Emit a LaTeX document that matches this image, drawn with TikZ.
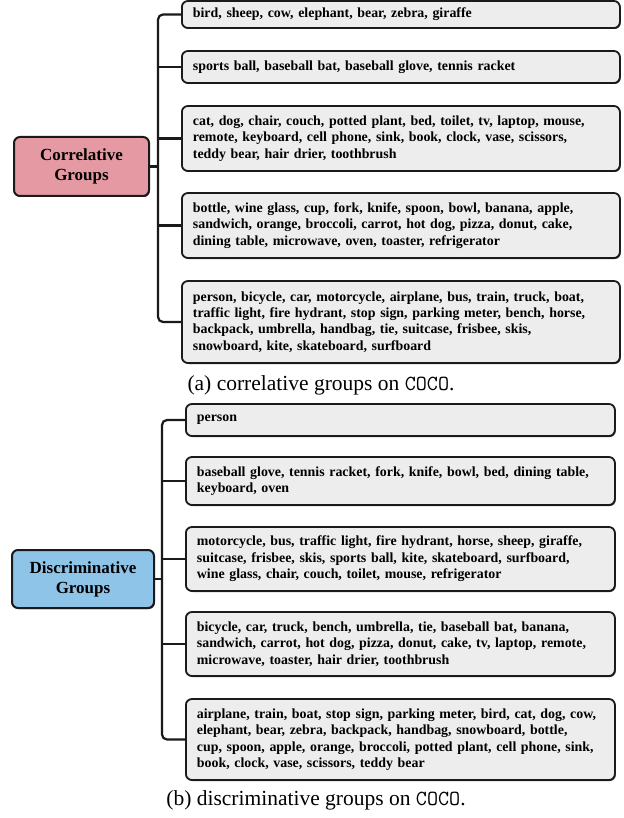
\documentclass[tikz,border=0pt]{standalone}
\usepackage{fontspec}
\setmainfont{Liberation Serif}
\usetikzlibrary{shadows}
\definecolor{linec}{HTML}{1A1A1A}
\definecolor{boxgray}{HTML}{EDEDED}
\definecolor{pinkc}{HTML}{E59AA3}
\definecolor{bluec}{HTML}{8EC4E7}
\begin{document}
\begin{tikzpicture}[x=1pt,y=-1pt,
  shd/.style={drop shadow={shadow xshift=0.8pt, shadow yshift=-1pt, fill=linec, opacity=0.85}},
  grp/.style={draw=linec, line width=2pt, rounded corners=6pt, align=center, shd,
    font=\fontsize{17}{20}\selectfont\bfseries, inner sep=2pt},
  itemtop/.style={draw=linec, line width=1.8pt, rounded corners=6pt, fill=boxgray, shd,
    anchor=west, align=left, inner xsep=11pt, inner ysep=0pt, text width=416pt,
    font=\fontsize{13.9}{16.4}\selectfont\bfseries},
  itembot/.style={itemtop, text width=407pt},
  conn/.style={draw=linec, line width=2.2pt, rounded corners=5pt},
  captxt/.style={font=\fontsize{21.5}{24}\selectfont}
]
\useasboundingbox (0,0) rectangle (623,818);

% ---------- (a) correlative ----------
\node[grp, fill=pinkc, minimum width=135pt, minimum height=59pt] (c0) at (81.5,166.5) {Correlative\\Groups};
\node[itemtop, minimum height=27pt] (c1) at (181,14.5) {bird, sheep, cow, elephant, bear, zebra, giraffe};
\node[itemtop, minimum height=32pt] (c2) at (181,67) {sports ball, baseball bat, baseball glove, tennis racket};
\node[itemtop, minimum height=65pt] (c3) at (181,138.5) {cat, dog, chair, couch, potted plant, bed, toilet, tv, laptop, mouse,\\remote, keyboard, cell phone, sink, book, clock, vase, scissors,\\teddy bear, hair drier, toothbrush};
\node[itemtop, minimum height=65pt] (c4) at (181,225.5) {bottle, wine glass, cup, fork, knife, spoon, bowl, banana, apple,\\sandwich, orange, broccoli, carrot, hot dog, pizza, donut, cake,\\dining table, microwave, oven, toaster, refrigerator};
\node[itemtop, minimum height=82pt] (c5) at (181,322) {person, bicycle, car, motorcycle, airplane, bus, train, truck, boat,\\traffic light, fire hydrant, stop sign, parking meter, bench, horse,\\backpack, umbrella, handbag, tie, suitcase, frisbee, skis,\\snowboard, kite, skateboard, surfboard};

\draw[conn] (c1.west) -- ++(-23,0) coordinate (ct) |- (c5.west);
\draw[conn] (c2.west) -- (c2.west -| ct);
\draw[conn] (c3.west) -- (c3.west -| ct);
\draw[conn] (c4.west) -- (c4.west -| ct);
\draw[conn] (c0.east) -- (c0.east -| ct);

\node[captxt] (capa) at (321,385) {(a) correlative groups on \texttt{COCO}.};

% ---------- (b) discriminative ----------
\node[grp, fill=bluec, minimum width=142pt, minimum height=58pt] (d0) at (83,579) {Discriminative\\Groups};
\node[itembot, minimum height=32pt] (d1) at (185,420) {person};
\node[itembot, minimum height=48pt] (d2) at (185,481) {baseball glove, tennis racket, fork, knife, bowl, bed, dining table,\\keyboard, oven};
\node[itembot, minimum height=64pt] (d3) at (185,559) {motorcycle, bus, traffic light, fire hydrant, horse, sheep, giraffe,\\suitcase, frisbee, skis, sports ball, kite, skateboard, surfboard,\\wine glass, chair, couch, toilet, mouse, refrigerator};
\node[itembot, minimum height=64pt] (d4) at (185,644) {bicycle, car, truck, bench, umbrella, tie, baseball bat, banana,\\sandwich, carrot, hot dog, pizza, donut, cake, tv, laptop, remote,\\microwave, toaster, hair drier, toothbrush};
\node[itembot, minimum height=81pt] (d5) at (185,739.5) {airplane, train, boat, stop sign, parking meter, bird, cat, dog, cow,\\elephant, bear, zebra, backpack, handbag, snowboard, bottle,\\cup, spoon, apple, orange, broccoli, potted plant, cell phone, sink,\\book, clock, vase, scissors, teddy bear};

\draw[conn] (d1.west) -- ++(-23,0) coordinate (dt) |- (d5.west);
\draw[conn] (d2.west) -- (d2.west -| dt);
\draw[conn] (d3.west) -- (d3.west -| dt);
\draw[conn] (d4.west) -- (d4.west -| dt);
\draw[conn] (d0.east) -- (d0.east -| dt);

\node[captxt] (capb) at (316,800) {(b) discriminative groups on \texttt{COCO}.};
\end{tikzpicture}
\end{document}
